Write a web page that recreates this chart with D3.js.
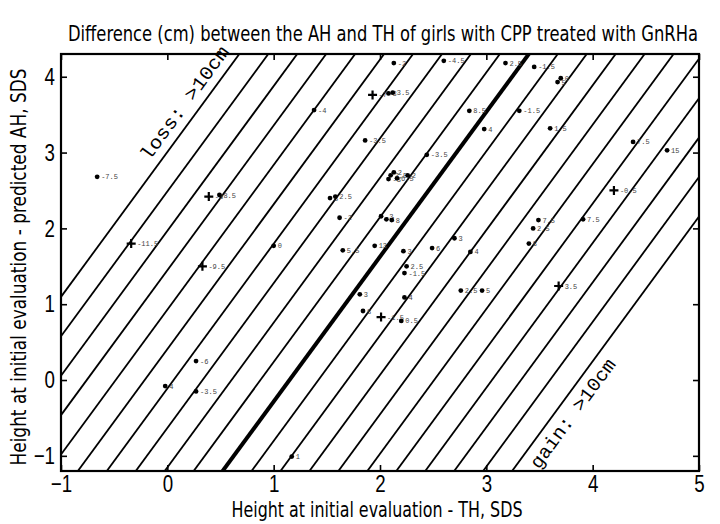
<!DOCTYPE html>
<html>
<head>
<meta charset="utf-8">
<script src="https://cdn.jsdelivr.net/npm/d3@7"></script>
<style>
  html,body{margin:0;padding:0;background:#fff;}
  svg{display:block;}
  .narrow{font-family:"Liberation Sans Narrow","DejaVu Sans Condensed","Roboto Condensed","DejaVu Sans",sans-serif;}
  .mono{font-family:"Liberation Mono","DejaVu Sans Mono",monospace;}
</style>
</head>
<body>
<svg id="chart" width="720" height="524"></svg>
<script>
/* data */
const thSds=[-0.66,0.39,0.49,-0.34,0.33,0.27,-0.02,0.27,1.17,1.00,
  1.38,1.93,2.08,2.12,2.13,2.60,3.18,3.45,3.70,3.67,
  2.84,3.31,2.98,3.60,1.86,2.44,2.08,2.10,2.13,2.16,
  2.26,1.53,1.58,1.62,2.01,2.06,2.11,1.65,1.95,2.22,
  2.49,2.70,2.85,2.25,2.23,2.76,2.96,1.81,2.23,1.84,
  2.01,2.20,4.38,4.70,4.20,3.49,3.91,3.44,3.40,3.68];
const ahSds=[2.68,2.42,2.44,1.80,1.50,0.25,-0.08,-0.15,-1.01,1.77,
  3.56,3.76,3.78,3.79,4.18,4.21,4.18,4.13,3.98,3.93,
  3.55,3.55,3.31,3.32,3.16,2.97,2.65,2.70,2.74,2.66,
  2.70,2.40,2.42,2.14,2.16,2.12,2.11,1.71,1.77,1.70,
  1.74,1.87,1.69,1.50,1.41,1.18,1.18,1.13,1.09,0.91,
  0.83,0.78,3.14,3.03,2.50,2.11,2.12,2.00,1.80,1.24];
const diffLabels=["-7.5","-3","8.5","-11.5","-9.5","-6","4","-3.5","1","0",
  "-4","-7","3","3.5","-2","-4.5","2.5","-1.5","0","5",
  "8.5","-1.5","4","1.5","-3.5","-3.5","-3","3.5","2","6.5",
  "2","5","2.5","-2","-3","4","8","5.5","13","3",
  "6","3","4","2.5","-1.5","2.5","5","3","4","8",
  "-1.5","0.5","7.5","15","-0.5","7.5","7.5","2.5","8","3.5"];
const markerType=["dot","plus","dot","plus","plus","dot","dot","dot","dot","dot",
  "dot","plus","dot","dot","dot","dot","dot","dot","dot","dot",
  "dot","dot","dot","dot","dot","dot","dot","dot","dot","dot",
  "dot","dot","dot","dot","dot","dot","dot","dot","dot","dot",
  "dot","dot","dot","dot","dot","dot","dot","dot","dot","dot",
  "plus","dot","dot","dot","plus","dot","dot","dot","dot","plus"];

/* reference lines: difference AH - TH in cm */
const lineDiffs=[-10,-9,-8,-7,-6,-5,-4,-3,-2,-1,0,1,2,3,4,5,6,7,8,9,10];
const lineSlope=1.91, lineZero=-2.193, sdsPerCm=0.52;

const xTicks=[-1,0,1,2,3,4,5];
const yTicks=[-1,0,1,2,3,4];

const W=720,H=524;
const M={left:61,right:21,top:54,bottom:53};
const svg=d3.select("#chart");
const x=d3.scaleLinear().domain([-1,5]).range([M.left,W-M.right]);
const y=d3.scaleLinear().domain([-1.2,4.3]).range([H-M.bottom,M.top]);

svg.append("defs").append("clipPath").attr("id","plotClip")
  .append("rect").attr("x",M.left).attr("y",M.top)
  .attr("width",W-M.left-M.right).attr("height",H-M.top-M.bottom);

/* diagonal lines */
const lineY=(k,xv)=>lineSlope*xv+lineZero-k*sdsPerCm;
svg.append("g").attr("clip-path","url(#plotClip)")
  .selectAll("line").data(lineDiffs).enter().append("line")
  .attr("x1",x(-1)).attr("y1",k=>y(lineY(k,-1)))
  .attr("x2",x(5)).attr("y2",k=>y(lineY(k,5)))
  .attr("stroke","#000").attr("stroke-width",k=>k===0?4:1.8);

/* region text along the outer lines */
const ang=Math.atan2(y(lineY(0,0))-y(lineY(0,1)),x(1)-x(0))*180/Math.PI;
function sideText(k,yd,off,txt,len){
  const xd=(yd-lineZero+k*sdsPerCm)/lineSlope;
  const px=x(xd),py=y(yd);
  const a=ang*Math.PI/180;
  const nx=-Math.sin(a),ny=-Math.cos(a); // perpendicular toward upper-left
  svg.append("text").attr("class","mono")
    .attr("transform",`translate(${px+nx*off},${py+ny*off}) rotate(${-ang})`)
    .attr("text-anchor","middle").attr("font-size",19)
    .attr("textLength",len).attr("lengthAdjust","spacingAndGlyphs")
    .text(txt);
}
sideText(-10,(380.3-112)/75.9,9,"loss: >10cm",136);
sideText(10,(380.3-405)/75.9,-21,"gain: >10cm",131);

/* point labels, then markers */
const pts=thSds.map((v,i)=>({x:v,y:ahSds[i],lab:diffLabels[i],t:markerType[i]}));
svg.append("g").selectAll("text").data(pts).enter().append("text")
  .attr("class","mono").attr("font-size",7).attr("fill","#444")
  .attr("x",d=>x(d.x)+(d.t==="plus"?6:4)).attr("y",d=>y(d.y)+2.5)
  .text(d=>d.lab);
const mk=svg.append("g");
mk.selectAll("circle").data(pts.filter(d=>d.t==="dot")).enter().append("circle")
  .attr("cx",d=>x(d.x)).attr("cy",d=>y(d.y)).attr("r",2.4).attr("fill","#000");
mk.selectAll("path").data(pts.filter(d=>d.t==="plus")).enter().append("path")
  .attr("d",d=>{const cx=x(d.x),cy=y(d.y),s=4.5;return `M${cx-s},${cy}H${cx+s}M${cx},${cy-s}V${cy+s}`;})
  .attr("stroke","#000").attr("stroke-width",2.2);

/* axes: inward ticks on all four sides */
const fs=22;
const ax=svg.append("g").attr("class","narrow");
const bx=ax.append("g").attr("transform",`translate(0,${H-M.bottom})`)
  .call(d3.axisBottom(x).tickValues(xTicks).tickSizeInner(-6).tickSizeOuter(0).tickPadding(4).tickFormat(d3.format("d")));
const ly=ax.append("g").attr("transform",`translate(${M.left},0)`)
  .call(d3.axisLeft(y).tickValues(yTicks).tickSizeInner(-6).tickSizeOuter(0).tickPadding(6).tickFormat(d3.format("d")));
ax.append("g").attr("transform",`translate(0,${M.top})`)
  .call(d3.axisTop(x).tickValues(xTicks).tickSizeInner(-6).tickSizeOuter(0).tickFormat(""));
ax.append("g").attr("transform",`translate(${W-M.right},0)`)
  .call(d3.axisRight(y).tickValues(yTicks).tickSizeInner(-6).tickSizeOuter(0).tickFormat(""));
ax.selectAll(".domain").remove();
ax.selectAll(".tick line").attr("stroke","#000").attr("stroke-width",1.6);
ax.selectAll(".tick text").attr("font-size",24).attr("fill","#000").attr("font-family",null);
bx.selectAll(".tick text").attr("transform","scale(0.78,1)");
ly.selectAll(".tick text").attr("x",0).attr("transform","translate(-6,0) scale(0.78,1)");

svg.append("rect").attr("x",M.left).attr("y",M.top)
  .attr("width",W-M.left-M.right).attr("height",H-M.top-M.bottom)
  .attr("fill","none").attr("stroke","#000").attr("stroke-width",2.2);

/* titles */
svg.append("text").attr("class","narrow").attr("x",383).attr("y",41)
  .attr("text-anchor","middle").attr("font-size",21)
  .attr("textLength",630).attr("lengthAdjust","spacingAndGlyphs")
  .text("Difference (cm) between the AH and TH of girls with CPP treated with GnRHa");
svg.append("text").attr("class","narrow").attr("x",377).attr("y",517)
  .attr("text-anchor","middle").attr("font-size",fs)
  .attr("textLength",291).attr("lengthAdjust","spacingAndGlyphs")
  .text("Height at initial evaluation - TH, SDS");
svg.append("text").attr("class","narrow")
  .attr("transform","translate(26,267) rotate(-90)")
  .attr("text-anchor","middle").attr("font-size",fs)
  .attr("textLength",397).attr("lengthAdjust","spacingAndGlyphs")
  .text("Height at initial evaluation - predicted AH, SDS");
</script>
</body>
</html>
